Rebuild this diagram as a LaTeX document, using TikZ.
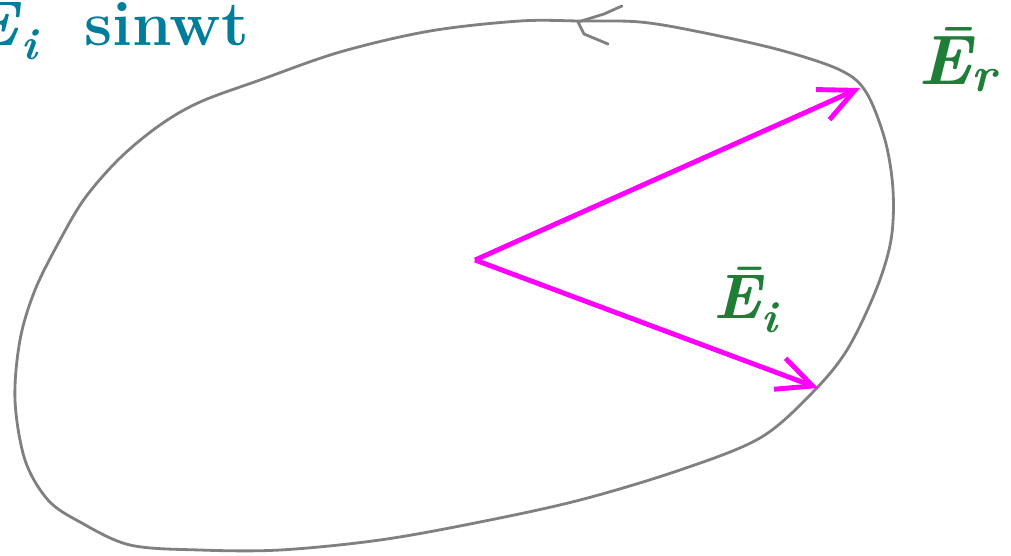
\documentclass[tikz,border=0pt]{standalone}
\usepackage{fontspec}
\usepackage{xcolor}
\definecolor{vecpink}{RGB}{255,0,255}
\definecolor{labgreen}{RGB}{30,125,55}
\definecolor{labteal}{RGB}{0,125,155}
\definecolor{locusgray}{RGB}{128,128,128}
\usetikzlibrary{arrows.meta}

\begin{document}
\begin{tikzpicture}[x=0.02cm,y=-0.02cm,
    locus/.style={locusgray,line width=1.6pt,line cap=round},
    vec/.style={vecpink,line width=2.8pt,-{Straight Barb[length=7mm,width=6.6mm]}},
    lab/.style={inner sep=0pt,font=\fontsize{36}{40}\selectfont\bfseries}]
  \useasboundingbox (0,0) rectangle (1011,555);
  % Locus of the field vector
  \draw[locus] plot[smooth cycle,tension=0.55] coordinates {
    (580,21) (640,22) (700,32) (780,50) (840,70) (866,92) (885,140)
    (893,190) (891,240) (876,290) (847,350) (812,393) (760,438)
    (680,470) (580,500) (480,522) (380,540) (280,550) (200,550)
    (130,545) (80,522) (48,500) (25,460) (15,400) (20,340) (35,290)
    (60,240) (85,198) (120,158) (160,125) (200,102) (260,80)
    (340,52) (430,31) (520,21)};
  % Sense of rotation
  \coordinate (tip) at (578,22);
  \draw[locus] (tip) -- ++(26,-8) -- ++(18,-8);
  \draw[locus] (tip) -- ++(6,12) -- ++(24,10);
  % Vectors
  \coordinate (o) at (475,260);
  \coordinate (r) at (860,88);
  \coordinate (i) at (818,388);
  \draw[vec] (o) -- (r);
  \draw[vec] (o) -- (i);
  % Labels
  \node[lab,labteal,anchor=base west] (src) at (-30,45)
    {\textit{E}\textsubscript{\textit{i}}\hspace{0.7em}sinwt};
  \node[lab,labgreen,font=\fontsize{40}{44}\selectfont\bfseries\itshape] (er) at (958,60)
    {Ē\textsubscript{r}};
  \node[lab,labgreen,font=\fontsize{36}{40}\selectfont\bfseries\itshape] (ei) at (746,300)
    {Ē\textsubscript{i}};
\end{tikzpicture}
\end{document}
